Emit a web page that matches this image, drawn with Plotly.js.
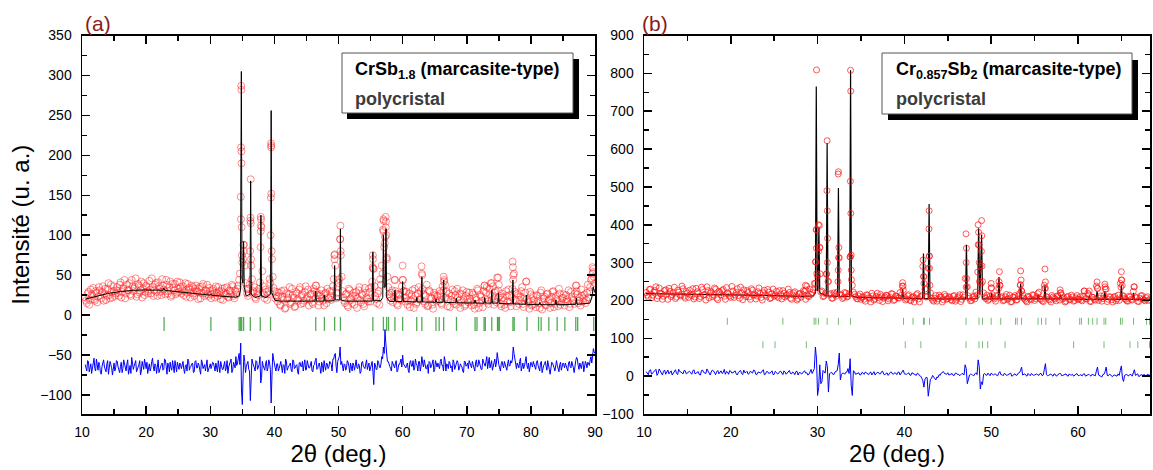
<!DOCTYPE html>
<html>
<head>
<meta charset="utf-8">
<script src="https://cdn.plot.ly/plotly-3.0.1.min.js"></script>
<style>html,body{margin:0;padding:0;background:#fff;}#chart{width:1153px;height:470px;}</style>
</head>
<body>
<div id="chart"></div>
<script>
// ---------------- Panel (a) : CrSb1.8 ----------------
// observed intensities on the 2θ grid start + i*step, and on the half-step grid start + step/2 + i*step
const obsA_start = 10.5, obsA_step = 0.25;
const obsA_y = [
 22,15,29,19,26,34,18,28,23,31,21,36,27,19,33,25,38,22,30,27,
 35,24,41,29,33,21,38,31,26,44,30,35,23,39,28,42,33,25,37,30,
 43,27,35,31,40,24,36,29,45,32,26,38,30,42,25,34,39,28,33,41,
 27,36,30,23,39,32,28,35,24,37,29,33,21,36,27,31,38,24,30,26,
 33,22,28,35,25,30,19,34,27,23,31,26,36,21,29,33,44,148,66,88,
 40,27,33,118,45,30,22,30,25,41,110,36,21,29,26,45,210,48,30,24,
 17,28,12,23,31,9,20,26,14,33,22,11,27,18,35,24,15,29,20,32,
 19,27,14,30,37,25,17,26,21,12,28,33,20,24,30,45,62,28,40,95,
 48,22,15,27,10,31,19,24,13,29,21,35,16,25,11,28,20,33,17,42,
 58,24,15,30,45,62,105,98,72,35,22,28,16,44,27,12,25,19,44,30,
 22,13,27,18,31,9,24,16,35,20,52,26,14,38,12,29,21,8,25,17,
 24,30,15,36,44,22,11,27,19,32,14,25,33,18,9,26,20,13,29,16,
 21,12,26,8,19,31,15,23,10,37,28,17,33,40,24,13,30,47,22,14,
 27,18,9,24,32,16,22,44,29,11,25,19,30,14,21,42,17,8,26,13,
 19,10,24,15,28,7,21,13,26,18,9,23,30,14,20,11,27,16,22,12,
 25,17,10,29,19,14,37,26,18,12,24,21,15,28,22,35,46,58,40
];
const obsA_y_half = [
 18,27,13,32,24,20,30,16,35,25,29,18,33,24,40,21,29,36,24,31,
 28,38,22,34,44,27,31,40,24,36,33,46,26,37,31,22,40,29,35,27,
 32,46,24,38,29,41,33,25,37,30,44,27,35,23,39,31,26,42,29,35,
 31,25,40,28,34,22,37,27,33,30,20,35,28,39,24,30,26,34,21,31,
 27,36,24,30,20,33,28,25,35,22,30,38,24,31,26,37,52,190,70,62,
 33,24,38,62,28,35,20,27,33,105,55,26,32,19,30,40,70,34,21,29,
 24,13,30,19,8,27,22,35,16,25,10,29,20,32,14,26,18,36,23,12,
 26,16,33,21,28,12,24,31,18,27,15,22,30,19,36,70,21,35,45,75,
 30,18,26,12,33,21,15,28,24,9,31,19,26,14,34,22,17,29,35,70,
 36,20,27,13,38,52,85,110,48,26,18,31,22,30,14,26,20,36,30,17,
 29,18,10,25,20,33,14,27,19,30,33,17,24,11,31,22,13,28,19,24,
 18,27,13,31,38,29,20,10,24,17,30,13,22,27,16,31,11,24,19,28,
 17,28,13,22,33,9,25,18,30,20,35,14,26,19,36,28,16,31,24,11,
 22,13,30,17,25,11,33,52,19,27,14,23,35,10,28,20,16,29,12,24,
 14,25,18,9,31,17,23,12,27,20,15,29,10,24,18,33,13,21,26,16,
 20,31,14,23,18,27,30,15,22,32,17,26,19,38,29,44,52,36
];
const obsA_pk_x = [34.79,34.81,34.83,34.85,34.87,34.9,34.95,35.18,35.22,36.22,36.27,36.3,36.32,36.36,37.84,37.88,37.9,37.92,39.42,39.46,39.48,39.5,39.52,39.57,46.45,49.37,49.42,50.27,50.3,50.33,55.32,55.36,55.4,56.95,57.0,57.05,57.2,57.35,57.4,57.45,57.55,58.8,60.0,60.05,62.95,63.05,66.4,66.45,72.8,73.9,74.9,75.0,77.15,77.2,77.25,79.3,87.1,89.6,89.7,89.8];
const obsA_pk_y = [120,210,287,282,205,110,75,88,80,80,122,170,115,70,85,123,112,120,100,147,215,212,152,80,37,75,76,95,112,80,60,75,58,107,120,118,90,123,117,100,70,44,62,44,61,50,48,42,37,40,47,38,67,60,50,42,37,60,54,48];
const calcA_x = [10.5,12,14,16,18,20,22,22.6,22.75,22.9,24,26,28,30,30.1,30.2,32,34,34.5,34.7,34.85,34.95,35.1,35.2,35.3,35.6,36.2,36.3,36.4,37.0,37.8,37.9,38.0,38.7,39.4,39.5,39.6,40.1,41,44,46.35,46.45,46.55,47.7,47.8,47.9,49.3,49.4,49.5,50.2,50.3,50.4,51,55.26,55.36,55.46,56.6,56.9,57.0,57.12,57.3,57.4,57.52,58,58.7,58.8,58.9,59.9,60.0,60.1,62.1,62.2,62.3,62.9,63.0,63.1,65.1,65.2,65.3,66.3,66.4,66.5,68.3,68.4,68.5,71.2,71.3,71.4,72.7,72.8,72.9,73.8,73.9,74.0,74.85,74.95,75.05,77.1,77.2,77.3,79.2,79.3,79.4,81.3,81.4,81.5,83.8,83.9,84.0,87.0,87.1,87.2,89.2,89.6,89.7,90];
const calcA_y = [20,23,27,29.5,31,31.5,31,31,34,31,30,28.5,27,25,26,25,23.5,22.5,24,30,305,45,40,92,35,24,26,168,26,22,24,125,24,22,26,256,28,18.5,17.5,17,17.5,30,17.5,17.5,25,17.5,18,62,19,19,108,19,17.5,17.5,79,18,18,22,100,35,35,108,22,17,17,31,17,17,42,17,16.5,22,16.5,16.5,48,16.5,16,20,16,16,44,16,15.5,21,15.5,15,19,15,15,22,15,15,31,15,15,27,14.5,14,44,14,13.5,25,13.5,13,16,13,13,19,13,13.5,21,13.5,15,25,35,28];
const diffA_y = [
 -62,-70,-58,-66,-73,-60,-67,-55,-69,-63,-74,-59,-65,-71,-57,-68,-62,-75,-60,-66,
 -58,-69,-64,-72,-56,-67,-61,-74,-63,-53,-68,-60,-71,-65,-57,-70,-62,-55,-67,-73,
 -61,-66,-54,-70,-63,-58,-72,-65,-60,-68,-56,-74,-62,-59,-69,-64,-57,-71,-66,-60,
 -67,-58,-73,-62,-55,-69,-64,-60,-71,-57,-66,-63,-74,-59,-65,-70,-56,-68,-61,-64,
 -60,-70,-65,-57,-72,-62,-68,-58,-66,-73,-61,-55,-69,-64,-52,-60,-48,-35,-112,-50,
 -72,-60,-68,-107,-55,-62,-70,-58,-65,-52,-78,-63,-69,-57,-66,-60,-110,-48,-64,-70,
 -61,-67,-58,-72,-63,-55,-69,-64,-60,-71,-57,-66,-62,-74,-59,-65,-70,-56,-68,-61,
 -66,-58,-71,-62,-54,-67,-60,-73,-63,-57,-69,-61,-65,-59,-70,-55,-48,-72,-56,-40,
 -58,-70,-62,-66,-59,-72,-64,-60,-69,-56,-67,-63,-71,-58,-65,-61,-68,-60,-66,-58,
 -87,-62,-68,-59,-66,-52,-40,-18,-45,-58,-64,-70,-60,-66,-57,-69,-62,-55,-50,-63,
 -66,-60,-72,-57,-64,-69,-55,-63,-58,-70,-52,-65,-61,-67,-73,-59,-64,-56,-68,-62,
 -60,-67,-55,-63,-52,-70,-62,-58,-66,-71,-59,-64,-57,-69,-61,-65,-72,-58,-63,-67,
 -59,-66,-62,-70,-56,-64,-60,-68,-55,-63,-58,-67,-53,-61,-69,-57,-65,-47,-62,-70,
 -58,-66,-61,-69,-56,-63,-60,-40,-55,-67,-62,-58,-70,-60,-64,-52,-67,-71,-59,-65,
 -62,-68,-57,-66,-60,-72,-63,-58,-69,-61,-74,-59,-65,-70,-57,-67,-62,-69,-60,-66,
 -63,-70,-58,-66,-61,-72,-57,-55,-68,-64,-60,-71,-58,-66,-62,-56,-60,-42,-48
];
const diffA_y_half = [
 -68,-57,-71,-61,-66,-54,-70,-63,-59,-72,-64,-56,-69,-61,-74,-58,-66,-63,-70,-57,
 -65,-72,-59,-67,-62,-70,-56,-66,-73,-60,-64,-57,-69,-62,-75,-58,-68,-63,-59,-66,
 -70,-58,-65,-61,-73,-56,-67,-62,-69,-55,-64,-60,-71,-66,-57,-72,-63,-59,-68,-62,
 -59,-68,-63,-70,-57,-65,-61,-72,-58,-66,-60,-69,-56,-67,-62,-58,-71,-64,-67,-59,
 -66,-60,-71,-63,-58,-68,-62,-70,-57,-65,-60,-72,-59,-66,-63,-55,-62,-95,-75,-58,
 -64,-58,-70,-80,-60,-66,-57,-68,-62,-85,-58,-65,-61,-70,-56,-68,-75,-55,-66,-61,
 -70,-59,-65,-62,-73,-58,-66,-61,-69,-56,-67,-63,-71,-60,-64,-58,-62,-69,-57,-66,
 -60,-70,-63,-57,-68,-62,-66,-59,-71,-64,-60,-67,-58,-62,-55,-50,-64,-58,-52,-62,
 -66,-61,-69,-57,-64,-60,-70,-63,-58,-66,-61,-73,-59,-64,-67,-56,-62,-70,-60,-72,
 -60,-68,-57,-65,-61,-55,-48,-35,-58,-63,-67,-58,-64,-60,-71,-62,-59,-65,-61,-66,
 -62,-69,-59,-64,-57,-66,-61,-70,-58,-64,-60,-56,-67,-62,-58,-66,-61,-71,-57,-65,
 -65,-58,-63,-70,-57,-61,-67,-60,-64,-56,-68,-62,-59,-66,-63,-70,-58,-64,-60,-57,
 -63,-58,-67,-60,-65,-56,-62,-68,-59,-64,-52,-60,-66,-57,-63,-55,-60,-58,-66,-61,
 -63,-58,-66,-61,-64,-57,-55,-48,-62,-60,-66,-54,-61,-67,-58,-63,-60,-65,-62,-58,
 -65,-59,-63,-70,-58,-66,-61,-64,-57,-68,-62,-60,-66,-58,-63,-71,-59,-65,-62,-60,
 -67,-60,-64,-58,-66,-62,-53,-63,-60,-67,-58,-64,-61,-59,-63,-52,-50,-46
];
const braggA = [22.8,30.1,34.5,34.7,34.9,35.2,36.25,37.8,39.4,46.45,47.8,49.4,50.3,55.36,57.0,57.5,57.8,58.8,60.0,62.2,63.0,65.2,65.7,66.4,68.4,71.3,71.6,72.7,72.9,73.9,74.8,74.9,75.1,77.2,77.4,79.4,81.2,81.6,82.8,84.1,85.3,87.0,87.3,89.8];
const braggA_level = -11;

// ---------------- Panel (b) : Cr0.857Sb2 ----------------
const obsB_start = 10.25, obsB_step = 0.25;
const obsB_y = [
 221,208,230,214,226,205,233,217,211,228,203,224,215,235,209,222,212,231,206,219,
 227,213,204,232,218,210,229,216,236,207,223,214,230,202,221,226,211,234,217,208,
 225,214,231,206,219,228,210,222,203,227,216,212,233,208,220,215,229,205,218,211,
 224,207,217,226,209,214,221,203,220,212,205,219,215,224,238,210,216,228,302,265,
 340,225,212,270,250,218,206,215,222,313,214,208,219,211,315,240,216,205,212,203,
 210,198,214,206,219,201,211,208,216,197,209,213,204,218,200,212,207,221,238,209,
 204,215,199,210,207,218,196,212,263,209,285,220,201,206,198,214,209,202,211,205,
 208,199,213,203,210,197,215,258,236,206,200,212,222,347,291,250,209,214,203,233,
 207,198,212,240,210,201,216,205,196,209,213,202,218,225,206,199,211,204,215,200,
 210,222,203,197,232,208,201,213,206,199,211,220,204,196,209,202,214,198,207,203,
 210,199,225,204,214,197,208,201,232,206,198,213,230,203,209,196,211,204,200,254,
 212,203,198,209,201,236,207,197,212,204,199,210,203
];
const obsB_y_half = [
 214,229,207,222,236,212,219,203,226,216,232,210,220,205,227,215,238,211,224,208,
 216,231,209,223,205,235,214,201,226,219,210,233,206,224,215,229,203,220,212,237,
 208,221,213,235,202,216,226,209,231,214,204,223,218,201,227,211,222,207,230,214,
 211,226,204,219,213,230,206,215,223,201,217,209,226,203,212,230,221,245,387,330,
 222,210,218,300,215,206,220,211,280,216,205,221,209,218,280,222,210,204,217,208,
 203,215,207,196,212,204,219,200,210,206,214,199,208,217,202,211,206,213,228,201,
 212,201,208,196,215,204,210,290,230,211,317,206,198,213,204,209,196,216,203,210,
 202,211,198,207,215,203,209,300,212,199,208,204,214,300,330,220,205,200,211,215,
 204,213,232,207,199,210,203,214,197,208,201,212,242,215,203,196,209,202,214,205,
 218,204,199,240,210,203,196,209,204,212,201,215,207,198,211,203,209,200,213,204,
 201,211,205,219,198,209,203,238,200,212,205,236,197,210,202,208,199,214,245,212,
 205,199,211,203,224,209,198,206,213,201,207,200
];
const obsB_pk_x = [28.6,28.65,29.75,29.8,29.83,29.86,29.88,29.9,30.1,30.2,30.25,30.3,31.05,31.08,31.1,31.12,31.15,31.2,32.35,32.38,32.4,32.42,32.45,33.75,33.78,33.8,33.82,33.83,33.87,33.9,39.8,39.85,42.15,42.2,42.25,42.83,42.85,42.88,42.9,42.95,47.1,47.12,47.15,47.18,48.45,48.5,48.55,48.6,48.65,48.85,48.9,48.92,48.95,50.0,50.05,50.9,50.95,51.0,53.35,53.4,53.45,53.5,56.15,56.2,56.25,57.95,58.0,60.7,61.3,62.2,62.25,63.1,63.15,64.95,65.0,65.05,65.1,66.45];
const obsB_pk_y = [240,228,245,302,387,338,809,271,400,398,340,270,270,490,622,437,364,250,250,534,540,313,340,315,515,808,753,430,320,255,247,238,307,263,245,389,437,317,285,240,376,235,338,258,275,400,380,347,250,245,411,371,291,245,233,250,276,240,240,278,254,225,232,283,249,228,220,225,225,249,232,243,230,235,276,254,240,236];
const calcB_x = [10.2,15,20,25,28,29.5,29.75,29.85,29.95,30.05,30.15,30.25,31.0,31.1,31.2,32.3,32.4,32.5,33.7,33.8,33.9,34.5,39.7,39.8,39.9,42.1,42.2,42.3,42.75,42.85,42.95,47.05,47.15,47.25,48.45,48.55,48.7,48.9,49.0,49.95,50.05,50.15,50.8,50.9,51.0,53.3,53.4,53.5,55.3,55.4,55.5,56.1,56.2,56.3,57.9,58.0,58.1,61.2,61.3,61.4,62.1,62.2,62.3,63.0,63.1,63.2,64.9,65.0,65.1,66.3,66.4,66.5,68.3];
const calcB_y = [218,217,216,213,211,212,220,765,225,230,395,220,212,616,212,211,497,211,210,808,212,208,206,230,206,205,324,205,205,455,205,204,347,204,205,391,215,374,204,204,220,204,204,262,204,204,245,204,204,215,204,204,240,204,204,215,204,203,212,203,203,225,203,203,225,203,203,240,203,203,220,203,203];
const diffB_y = [
 12,4,17,9,14,2,19,8,13,5,16,10,3,15,7,18,11,6,14,9,
 13,5,17,8,12,3,16,9,19,6,11,14,4,15,10,7,18,12,5,13,
 9,14,3,12,7,16,10,5,13,8,15,4,11,9,17,6,12,8,14,5,
 10,7,13,4,11,8,15,6,9,12,3,10,7,14,9,5,18,12,77,-51,
 30,-15,12,40,-42,9,5,11,14,61,4,8,10,20,46,-51,12,6,9,4,
 8,11,5,9,3,12,7,10,6,13,4,9,7,11,5,8,10,3,14,6,
 5,9,2,7,4,8,1,-5,-29,-3,-53,-8,2,-6,-2,4,8,12,6,9,
 4,7,2,8,5,3,6,30,-20,3,5,1,9,43,-34,-22,7,2,5,8,
 3,6,1,12,4,7,2,5,8,1,6,3,9,24,4,2,7,1,5,3,
 6,2,7,3,33,1,5,2,6,0,4,7,2,5,1,6,3,0,5,2,
 4,1,6,2,5,0,3,1,24,2,-2,5,24,1,4,-1,3,0,2,27,
 -14,4,1,5,0,17,3,-1,4,2,0,5,3
];
const diffB_y_half = [
 8,15,5,11,18,7,13,3,16,10,6,14,9,17,4,12,8,15,6,11,
 9,14,6,11,4,15,10,7,13,3,16,8,12,6,14,9,5,11,15,8,
 12,6,10,15,4,9,13,7,11,16,5,10,8,14,3,12,7,10,4,13,
 6,12,8,14,5,10,7,11,4,13,9,6,12,8,3,11,7,20,45,-30,
 -20,15,8,25,6,10,4,12,30,-10,8,5,11,7,-25,14,5,9,3,10,
 5,9,4,11,7,3,10,6,12,5,8,2,10,6,9,4,11,7,16,5,
 7,3,9,5,2,6,0,-12,-8,-4,-30,-6,-2,-10,-4,2,10,7,5,3,
 6,2,8,4,1,7,3,20,-8,5,2,6,4,25,-15,5,3,8,1,6,
 5,2,8,4,1,6,3,7,0,5,2,8,14,3,6,0,4,7,2,5,
 3,7,1,18,4,2,6,0,5,3,7,1,4,6,0,3,5,2,7,1,
 3,6,0,4,2,5,1,14,3,0,4,12,2,5,0,3,1,6,15,-5,
 2,5,1,4,10,2,6,0,3,5,1,4
];
const braggB1 = [19.6,26.0,29.6,29.8,30.1,31.1,32.4,33.8,39.9,41.0,42.2,42.3,42.9,47.1,48.6,49.0,50.0,51.1,52.8,53.0,53.5,55.4,55.8,56.3,57.9,60.2,60.4,61.2,61.7,62.2,63.0,63.2,64.9,65.1,66.4,67.9,68.25];
const braggB2 = [23.7,25.1,28.7,40.1,41.9,47.1,48.6,49.0,49.6,51.6,59.5,63.0,66.0,66.9,68.25];
const braggB1_level = 145, braggB2_level = 83;

// ---------------- Build ----------------
// merge the full-step and half-step samples into one ordered scan
function scan(start, step, full, half) {
  const x = [], y = [];
  for (let i = 0; i < full.length; i++) {
    x.push(+(start + i * step).toFixed(4)); y.push(full[i]);
    if (i < half.length) { x.push(+(start + (i + 0.5) * step).toFixed(4)); y.push(half[i]); }
  }
  return {x, y};
}
const obsA = scan(obsA_start, obsA_step, obsA_y, obsA_y_half);
const diffA = scan(obsA_start, obsA_step, diffA_y, diffA_y_half);
const obsB = scan(obsB_start, obsB_step, obsB_y, obsB_y_half);
const diffB = scan(obsB_start, obsB_step, diffB_y, diffB_y_half);

const W = 1153, H = 470;
const px = v => v / W, py = v => 1 - v / H;
const FONT = 'Liberation Sans, Arial, sans-serif';

const traces = [
  {x: obsA.x.concat(obsA_pk_x), y: obsA.y.concat(obsA_pk_y), xaxis:'x', yaxis:'y', mode:'markers', type:'scatter',
   marker:{symbol:'circle-open', size:7, color:'rgba(255,30,30,0.5)', line:{width:1}}},
  {x: calcA_x, y: calcA_y, xaxis:'x', yaxis:'y', mode:'lines', type:'scatter', line:{color:'#000', width:1}},
  {x: diffA.x, y: diffA.y, xaxis:'x', yaxis:'y', mode:'lines', type:'scatter', line:{color:'#0000ff', width:1}},
  {x: braggA, y: braggA.map(() => braggA_level), xaxis:'x', yaxis:'y', mode:'markers', type:'scatter',
   marker:{symbol:'line-ns-open', size:10, color:'rgba(40,150,40,0.8)', line:{width:1.3, color:'rgba(40,150,40,0.8)'}}},

  {x: calcB_x, y: calcB_y, xaxis:'x2', yaxis:'y2', mode:'lines', type:'scatter', line:{color:'#000', width:1.2}},
  {x: obsB.x.concat(obsB_pk_x), y: obsB.y.concat(obsB_pk_y), xaxis:'x2', yaxis:'y2', mode:'markers', type:'scatter',
   marker:{symbol:'circle-open', size:6, color:'rgba(255,20,20,0.7)', line:{width:1}}},
  {x: diffB.x, y: diffB.y, xaxis:'x2', yaxis:'y2', mode:'lines', type:'scatter', line:{color:'#0000ff', width:1}},
  {x: braggB1, y: braggB1.map(() => braggB1_level), xaxis:'x2', yaxis:'y2', mode:'markers', type:'scatter',
   marker:{symbol:'line-ns-open', size:5, color:'rgba(60,160,60,0.7)', line:{width:1, color:'rgba(60,160,60,0.7)'}}},
  {x: braggB2, y: braggB2.map(() => braggB2_level), xaxis:'x2', yaxis:'y2', mode:'markers', type:'scatter',
   marker:{symbol:'line-ns-open', size:5, color:'rgba(60,160,60,0.7)', line:{width:1, color:'rgba(60,160,60,0.7)'}}}
];

const axBase = {
  showline:true, linecolor:'#000', linewidth:1.5, mirror:'ticks', ticks:'inside', ticklen:8, tickwidth:1.5, tickcolor:'#000',
  showgrid:false, zeroline:false, tickfont:{family:FONT, size:14, color:'#000'}
};
const yDom = [py(414), py(35.5)];

const boxFont = (color) => ({family:FONT, size:18, color:color, weight:'bold'});

const layout = {
  width: W, height: H, margin:{l:0, r:0, t:0, b:0}, showlegend:false,
  paper_bgcolor:'#fff', plot_bgcolor:'#fff', font:{family:FONT, size:14, color:'#000'},
  xaxis: Object.assign({}, axBase, {domain:[px(82), px(595)], range:[10, 90], tick0:10, dtick:10, anchor:'y',
     ticklabelstandoff:5, minor:{dtick:5, ticks:'inside', ticklen:5, tickwidth:1.5, tickcolor:'#000'},
     title:{text:'2θ (deg.)', font:{family:FONT, size:24, color:'#000'}, standoff:6}}),
  yaxis: Object.assign({}, axBase, {domain:yDom, range:[-123.8, 350], tick0:0, dtick:50, anchor:'x',
     ticklabelstandoff:6, minor:{dtick:25, ticks:'inside', ticklen:5, tickwidth:1.5, tickcolor:'#000'},
     title:{text:'Intensité (u. a.)', font:{family:FONT, size:24, color:'#000'}, standoff:4}}),
  xaxis2: Object.assign({}, axBase, {domain:[px(644), px(1150)], range:[10, 68.3], tick0:10, dtick:10, anchor:'y2',
     ticklabelstandoff:5, minor:{dtick:5, ticks:'inside', ticklen:5, tickwidth:1.5, tickcolor:'#000'},
     title:{text:'2θ (deg.)', font:{family:FONT, size:24, color:'#000'}, standoff:6}}),
  yaxis2: Object.assign({}, axBase, {domain:yDom, range:[-100, 900], tick0:0, dtick:100, anchor:'x2',
     ticklabelstandoff:6, minor:{dtick:50, ticks:'inside', ticklen:5, tickwidth:1.5, tickcolor:'#000'}}),
  shapes: [
    {type:'rect', xref:'paper', yref:'paper', x0:px(347), x1:px(579), y0:py(119), y1:py(59), fillcolor:'#000', line:{width:0}},
    {type:'rect', xref:'paper', yref:'paper', x0:px(342), x1:px(573), y0:py(113), y1:py(53), fillcolor:'#fff', line:{color:'#555', width:1}},
    {type:'rect', xref:'paper', yref:'paper', x0:px(888), x1:px(1138), y0:py(120), y1:py(60), fillcolor:'#000', line:{width:0}},
    {type:'rect', xref:'paper', yref:'paper', x0:px(882), x1:px(1132), y0:py(114), y1:py(53), fillcolor:'#fff', line:{color:'#555', width:1}}
  ],
  annotations: [
    {xref:'paper', yref:'paper', x:px(83), y:py(24), xanchor:'left', yanchor:'middle', showarrow:false,
     text:'(a)', font:{family:FONT, size:21, color:'#8b1a1a'}},
    {xref:'paper', yref:'paper', x:px(640), y:py(24), xanchor:'left', yanchor:'middle', showarrow:false,
     text:'(b)', font:{family:FONT, size:21, color:'#8b1a1a'}},
    {xref:'paper', yref:'paper', x:px(353), y:py(71), xanchor:'left', yanchor:'middle', showarrow:false,
     text:'CrSb<sub>1.8</sub> (marcasite-type)', font:boxFont('#000')},
    {xref:'paper', yref:'paper', x:px(353), y:py(99), xanchor:'left', yanchor:'middle', showarrow:false,
     text:'polycristal', font:boxFont('#3c3c3c')},
    {xref:'paper', yref:'paper', x:px(894), y:py(71), xanchor:'left', yanchor:'middle', showarrow:false,
     text:'Cr<sub>0.857</sub>Sb<sub>2</sub> (marcasite-type)', font:boxFont('#000')},
    {xref:'paper', yref:'paper', x:px(894), y:py(99), xanchor:'left', yanchor:'middle', showarrow:false,
     text:'polycristal', font:boxFont('#3c3c3c')}
  ]
};

Plotly.newPlot('chart', traces, layout, {displayModeBar:false, staticPlot:true});
</script>
</body>
</html>
